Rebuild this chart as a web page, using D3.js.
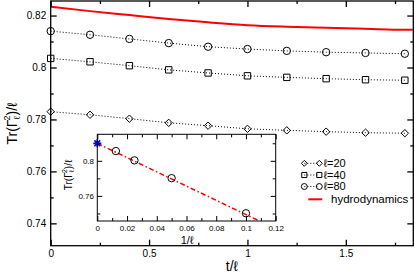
<!DOCTYPE html>
<html>
<head>
<meta charset="utf-8">
<script src="https://cdn.jsdelivr.net/npm/d3@7"></script>
<style>
	body { margin: 0; background: #fff; }
	svg { font-family: "Liberation Sans", Arial, sans-serif; }
</style>
</head>
<body>
<div id="chart"></div>
<script>

// main panel data
var tOverL = [0, 0.2, 0.4, 0.6, 0.8, 1.0, 1.2, 1.4, 1.6, 1.8];
var trL20 = [0.7830, 0.7818, 0.7803, 0.7787, 0.7776, 0.7764, 0.7758, 0.7753, 0.7749, 0.7747];
var trL40 = [0.8035, 0.8022, 0.8007, 0.7991, 0.7979, 0.7968, 0.7962, 0.7957, 0.7953, 0.7951];
var trL80 = [0.8140, 0.8126, 0.8110, 0.8094, 0.8080, 0.8071, 0.8064, 0.8059, 0.8056, 0.8053];
var hydroT = [0, 0.2, 0.4, 0.6, 0.8, 1.0, 1.2, 1.4, 1.6, 1.8, 1.84];
var hydroTr = [0.8234, 0.8217, 0.8202, 0.8187, 0.8174, 0.8163, 0.8157, 0.8153, 0.8149, 0.8145, 0.8145];

// inset data
var invL = [0.0125, 0.025, 0.05, 0.1];
var trInset = [0.8111, 0.8005, 0.7802, 0.7402];
var starX = [0];
var starY = [0.8199];
var fitX = [0, 0.109];
var fitY = [0.8199, 0.7314];

// ticks
var xMajor = [0, 0.5, 1, 1.5];
var xLabels = ["0", "0.5", "1", "1.5"];
var xMinor = [0.25, 0.75, 1.25, 1.75];
var yMajor = [0.74, 0.76, 0.78, 0.8, 0.82];
var yLabels = ["0.74", "0.76", "0.78", "0.8", "0.82"];
var yMinor = [0.75, 0.77, 0.79, 0.81];
var ixMajor = [0, 0.02, 0.04, 0.06, 0.08, 0.1, 0.12];
var ixLabels = ["0", "0.02", "0.04", "0.06", "0.08", "0.1", "0.12"];
var ixMinor = [0.01, 0.03, 0.05, 0.07, 0.09, 0.11];
var iyMajor = [0.76, 0.8];
var iyLabels = ["0.76", "0.8"];
var iyMinor = [0.74, 0.78, 0.82];

var legendNames = ["\u2113=20", "\u2113=40", "\u2113=80", "hydrodynamics"];

var width = 415,
	height = 273;

var svg = d3.select("#chart")
	.append("svg")
	.attr("width", width)
	.attr("height", height);

/* SCALES */
var x = d3.scaleLinear().domain([0, 1.843]).range([50.7, 413.3]);
var y = d3.scaleLinear().domain([0.7314, 0.8256]).range([245.7, 1]);

var ix = d3.scaleLinear().domain([0, 0.12]).range([97.3, 275.7]);
var iy = d3.scaleLinear().domain([0.7314, 0.8302]).range([221, 134.3]);

/* MARKER SHAPES */
function diamond(r) { return "M0," + (-r) + "L" + r + ",0L0," + r + "L" + (-r) + ",0Z"; }
function square(r) { return "M" + (-r) + "," + (-r) + "h" + (2 * r) + "v" + (2 * r) + "h" + (-2 * r) + "Z"; }
function circle(r) { return d3.symbol().type(d3.symbolCircle).size(Math.PI * r * r)(); }

/* AXES helper: inward ticks on all four sides */
function drawAxes(g, xs, ys, opt) {
	var x0 = xs.range()[0], x1 = xs.range()[1];
	var y0 = ys.range()[0], y1 = ys.range()[1];

	g.append("g").attr("transform", "translate(0," + y0 + ")")
		.call(d3.axisBottom(xs).tickValues(opt.xMajor).tickSize(-opt.major).tickPadding(opt.xPad)
			.tickFormat((d, i) => opt.xLabels[i]))
		.call(s => s.selectAll("text").style("font-size", opt.font + "px"));
	g.append("g").attr("transform", "translate(0," + y0 + ")")
		.call(d3.axisBottom(xs).tickValues(opt.xMinor).tickSize(-opt.minor).tickFormat(""));
	g.append("g").attr("transform", "translate(0," + y1 + ")")
		.call(d3.axisTop(xs).tickValues(opt.xMajor).tickSize(-opt.major).tickFormat(""));
	g.append("g").attr("transform", "translate(0," + y1 + ")")
		.call(d3.axisTop(xs).tickValues(opt.xMinor).tickSize(-opt.minor).tickFormat(""));

	g.append("g").attr("transform", "translate(" + x0 + ",0)")
		.call(d3.axisLeft(ys).tickValues(opt.yMajor).tickSize(-opt.major).tickPadding(opt.yPad)
			.tickFormat((d, i) => opt.yLabels[i]))
		.call(s => s.selectAll("text").style("font-size", opt.font + "px"));
	g.append("g").attr("transform", "translate(" + x0 + ",0)")
		.call(d3.axisLeft(ys).tickValues(opt.yMinor).tickSize(-opt.minor).tickFormat(""));
	g.append("g").attr("transform", "translate(" + x1 + ",0)")
		.call(d3.axisRight(ys).tickValues(opt.yMajor).tickSize(-opt.major).tickFormat(""));
	g.append("g").attr("transform", "translate(" + x1 + ",0)")
		.call(d3.axisRight(ys).tickValues(opt.yMinor).tickSize(-opt.minor).tickFormat(""));

	g.selectAll(".domain").remove();
	g.selectAll(".tick line").attr("stroke", "#000").attr("stroke-width", opt.sw);
	g.selectAll(".tick text").attr("fill", "#000");
	g.selectAll("g").attr("font-family", null);

	g.append("rect")
		.attr("x", x0).attr("y", y1)
		.attr("width", x1 - x0).attr("height", y0 - y1)
		.attr("fill", "none").attr("stroke", "#000").attr("stroke-width", opt.sw);
}

/* MAIN PANEL */
var main = svg.append("g");

var seriesList = [
	{ values: trL20, shape: diamond, r: 3.7 },
	{ values: trL40, shape: square, r: 3.2 },
	{ values: trL80, shape: circle, r: 3.7 }
];

var line = d3.line().x(d => x(d[0])).y(d => y(d[1]));

seriesList.forEach(function(s) {
	var pts = tOverL.map((t, i) => [t, s.values[i]]);
	main.append("path")
		.attr("d", line(pts))
		.attr("fill", "none")
		.attr("stroke", "#000")
		.attr("stroke-width", 1)
		.attr("stroke-dasharray", "1,2");
	main.selectAll(null)
		.data(pts)
		.enter()
		.append("path")
			.attr("d", s.shape(s.r))
			.attr("transform", d => "translate(" + x(d[0]) + "," + y(d[1]) + ")")
			.attr("fill", "none")
			.attr("stroke", "#000")
			.attr("stroke-width", 1);
});

main.append("path")
	.attr("d", d3.line().curve(d3.curveMonotoneX).x(d => x(d[0])).y(d => y(d[1]))(hydroT.map((t, i) => [t, hydroTr[i]])))
	.attr("fill", "none")
	.attr("stroke", "#ff0000")
	.attr("stroke-width", 2);

drawAxes(main, x, y, {
	xMajor: xMajor, xLabels: xLabels, xMinor: xMinor,
	yMajor: yMajor, yLabels: yLabels, yMinor: yMinor,
	major: 6, minor: 3, xPad: 4.5, yPad: 4.5, font: 10, sw: 1.3
});

main.append("text")
	.attr("x", 232).attr("y", 271)
	.attr("text-anchor", "middle")
	.style("font-size", "14px")
	.text("t/\u2113");

var ylab = main.append("text")
	.attr("transform", "translate(17,123.5) rotate(-90)")
	.attr("text-anchor", "middle")
	.style("font-size", "14px");
ylab.append("tspan").text("Tr(\u0393");
ylab.append("tspan").attr("dy", 3).style("font-size", "9px").text("\u2113");
ylab.append("tspan").attr("dx", -4).attr("dy", -10).style("font-size", "9px").text("2");
ylab.append("tspan").attr("dy", 7).text(")/\u2113");

/* LEGEND */
var legend = svg.append("g");
var legendY = [163.3, 175, 186.5, 199.3];
seriesList.forEach(function(s, i) {
	var ly = legendY[i];
	legend.append("line")
		.attr("x1", 304.3).attr("x2", 319.3).attr("y1", ly).attr("y2", ly)
		.attr("stroke", "#000").attr("stroke-dasharray", "1,2");
	[304.3, 319.3].forEach(function(lx) {
		legend.append("path")
			.attr("d", s.shape(s.r * 0.8))
			.attr("transform", "translate(" + lx + "," + ly + ")")
			.attr("fill", "none").attr("stroke", "#000");
	});
	legend.append("text")
		.attr("x", 323.5).attr("y", ly).attr("dy", "0.36em")
		.style("font-size", "11px")
		.text(legendNames[i]);
});
legend.append("line")
	.attr("x1", 308.3).attr("x2", 322.3).attr("y1", legendY[3]).attr("y2", legendY[3])
	.attr("stroke", "#ff0000").attr("stroke-width", 2);
legend.append("text")
	.attr("x", 331).attr("y", legendY[3]).attr("dy", "0.36em")
	.style("font-size", "11.5px")
	.text(legendNames[3]);

/* INSET */
var inset = svg.append("g");

inset.append("rect")
	.attr("x", ix.range()[0]).attr("y", iy.range()[1])
	.attr("width", ix.range()[1] - ix.range()[0])
	.attr("height", iy.range()[0] - iy.range()[1])
	.attr("fill", "#fff");

svg.append("clipPath").attr("id", "insetClip")
	.append("rect")
	.attr("x", ix.range()[0]).attr("y", iy.range()[1])
	.attr("width", ix.range()[1] - ix.range()[0])
	.attr("height", iy.range()[0] - iy.range()[1]);

inset.append("path")
	.attr("clip-path", "url(#insetClip)")
	.attr("d", d3.line().x(d => ix(d[0])).y(d => iy(d[1]))(fitX.map((v, i) => [v, fitY[i]])))
	.attr("fill", "none")
	.attr("stroke", "#ff0000")
	.attr("stroke-width", 1.5)
	.attr("stroke-dasharray", "5,2.5,1.5,2.5");

inset.selectAll(null)
	.data(invL.map((v, i) => [v, trInset[i]]))
	.enter()
	.append("path")
		.attr("d", circle(3.7))
		.attr("transform", d => "translate(" + ix(d[0]) + "," + iy(d[1]) + ")")
		.attr("fill", "none")
		.attr("stroke", "#000")
		.attr("stroke-width", 1);

inset.selectAll(null)
	.data(starX.map((v, i) => [v, starY[i]]))
	.enter()
	.append("path")
		.attr("d", "M-4,0H4M0,-4V4M-2.9,-2.9L2.9,2.9M-2.9,2.9L2.9,-2.9")
		.attr("transform", d => "translate(" + ix(d[0]) + "," + iy(d[1]) + ")")
		.attr("stroke", "#0000ff")
		.attr("stroke-width", 1.6);

drawAxes(inset, ix, iy, {
	xMajor: ixMajor, xLabels: ixLabels, xMinor: ixMinor,
	yMajor: iyMajor, yLabels: iyLabels, yMinor: iyMinor,
	major: 5, minor: 3, xPad: 4.5, yPad: 3.3, font: 8, sw: 1
});

inset.append("text")
	.attr("x", 187).attr("y", 244)
	.attr("text-anchor", "middle")
	.style("font-size", "11px")
	.text("1/\u2113");

var ilab = inset.append("text")
	.attr("transform", "translate(72,175) rotate(-90)")
	.attr("text-anchor", "middle")
	.style("font-size", "10px");
ilab.append("tspan").text("Tr(\u0393");
ilab.append("tspan").attr("dy", 2).style("font-size", "7px").text("\u2113");
ilab.append("tspan").attr("dx", -3).attr("dy", -7).style("font-size", "7px").text("2");
ilab.append("tspan").attr("dy", 5).text(")/\u2113");

</script>
</body>
</html>
